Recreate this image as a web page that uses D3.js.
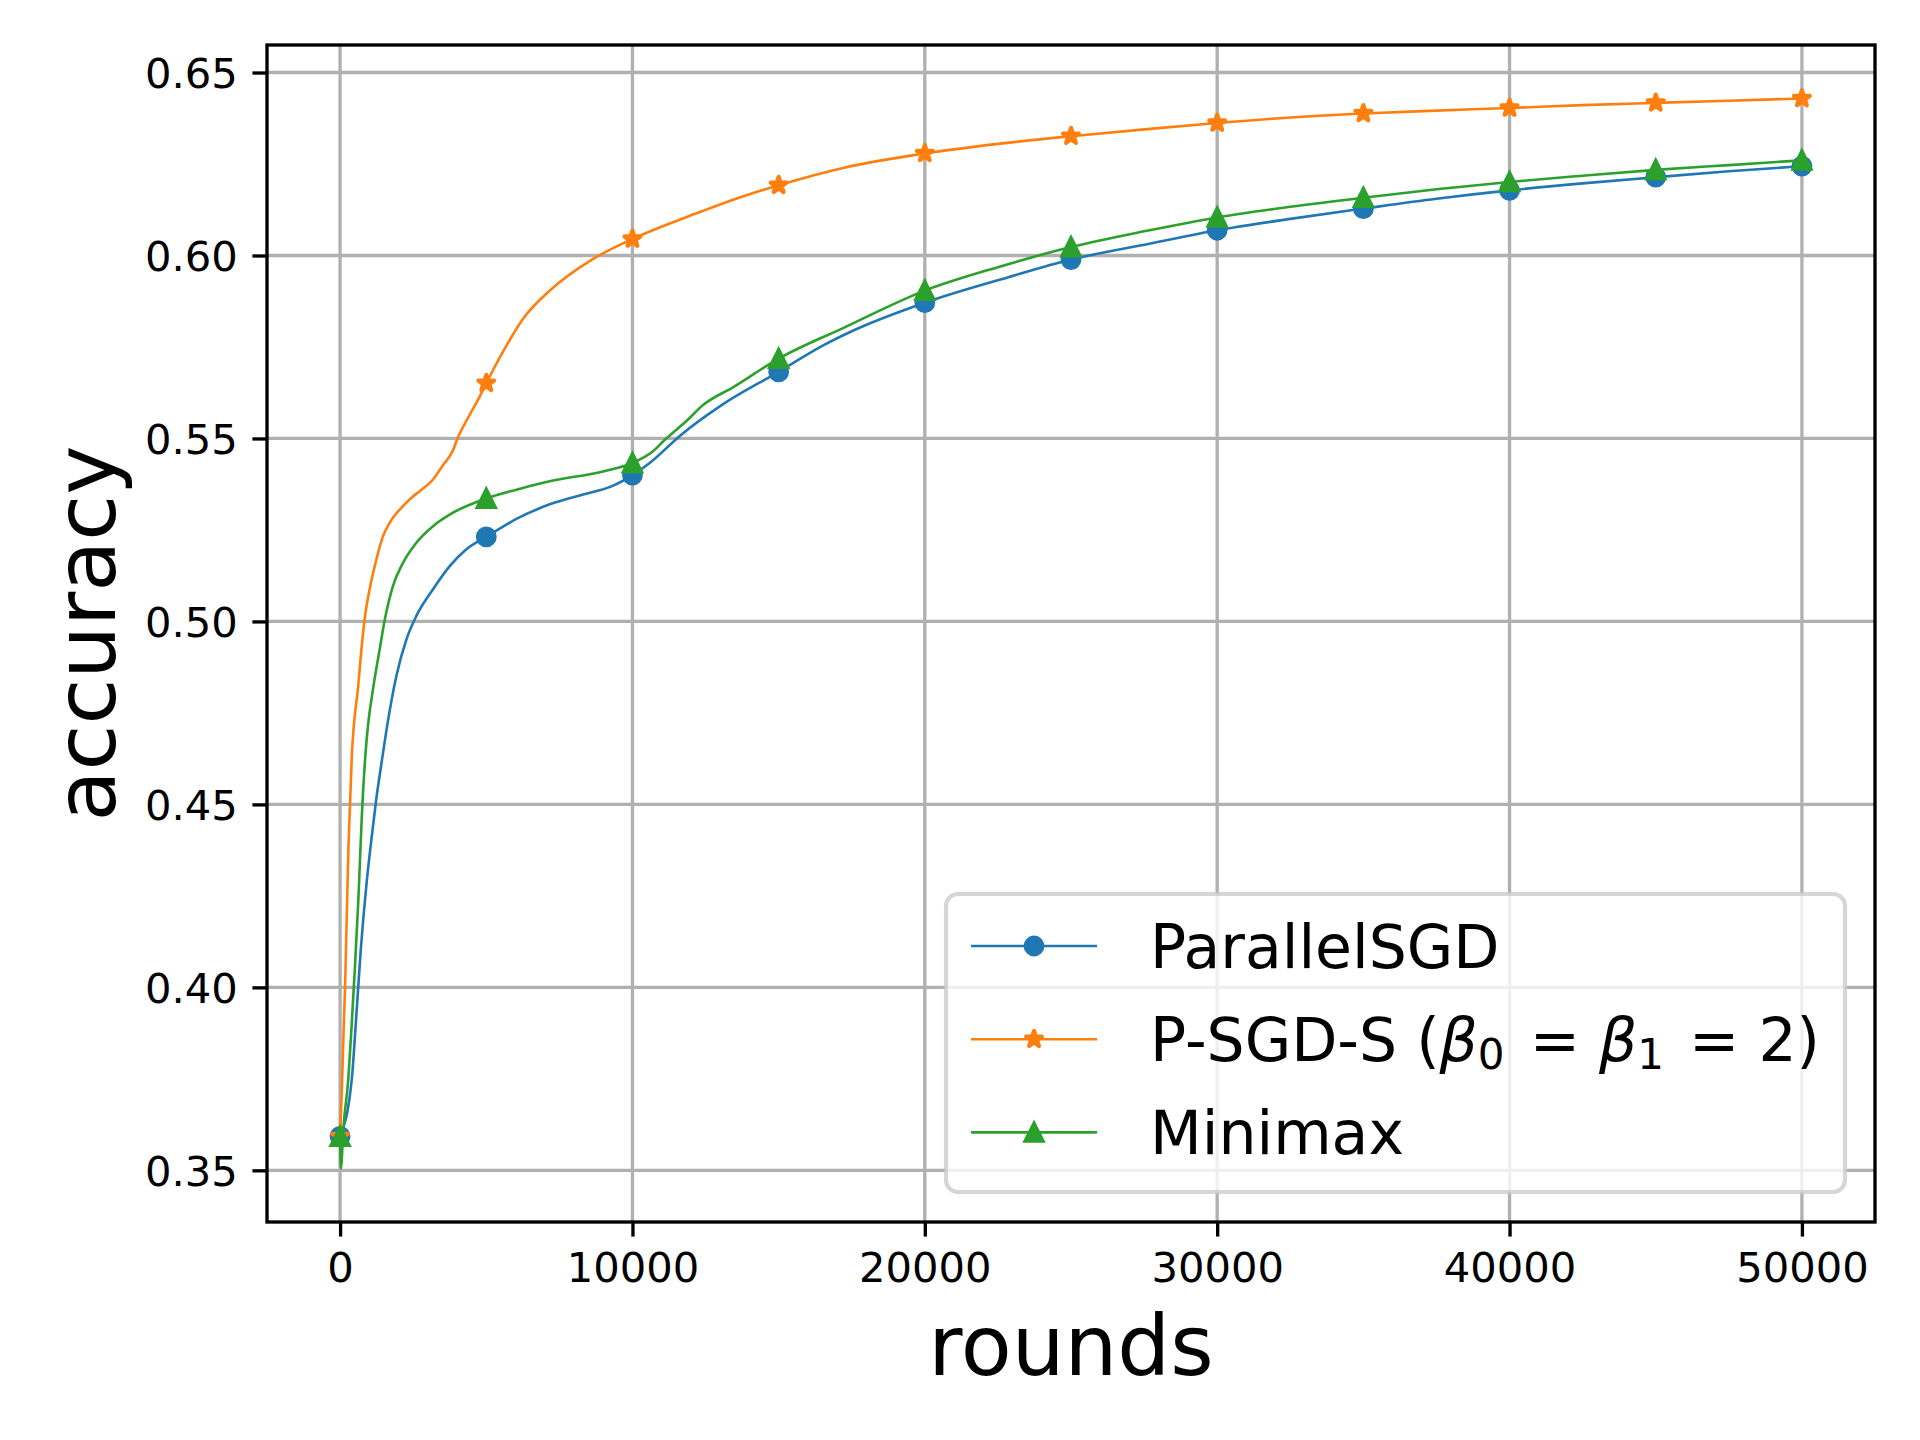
<!DOCTYPE html>
<html>
<head>
<meta charset="utf-8">
<script src="https://cdn.jsdelivr.net/npm/d3@7"></script>
<style>
  body { margin: 0; background: #fff; }
  text { font-family: "DejaVu Sans", sans-serif; }
</style>
</head>
<body>
<svg id="chart" width="1920" height="1440"></svg>
<script>
// values
const parallelRounds = [0, 400, 520, 700, 900, 1080, 1230, 1420, 1590, 1925, 2270, 2610, 3180, 3750, 4320, 5000,
    6030, 7170, 8310, 9280, 10000, 10590, 11650, 13050, 15000, 16540, 17500, 20000, 22830, 25000, 27720, 30000,
    32500, 35000, 37500, 40000, 42500, 45000, 47500, 50000];
const parallelAcc = [0.3593, 0.3749, 0.388, 0.4095, 0.428, 0.441, 0.451, 0.4615, 0.4705, 0.4851, 0.4951, 0.5015, 0.5088, 0.5151, 0.5197, 0.5231,
    0.5280, 0.5320, 0.5347, 0.5369, 0.540, 0.5433, 0.5509, 0.5591, 0.5682, 0.5755, 0.5793, 0.5871, 0.5940, 0.5989, 0.6033, 0.6069,
    0.6100, 0.6128, 0.6155, 0.6178, 0.6197, 0.6214, 0.6230, 0.6244];

const psgdRounds = [0, 60, 120, 170, 230, 285, 340, 400, 470, 610, 730, 840, 1010, 1240, 1470, 1700, 2150, 2500, 2720,
    3200, 3500, 3870, 4000, 4400, 4720, 5000, 5670, 6230, 7200, 8600, 10000, 12350, 13470, 15000, 17240, 20000,
    22500, 25000, 27700, 30000, 32500, 35000, 37500, 40000, 42500, 45000, 47500, 50000];
const psgdAcc = [0.3593, 0.372, 0.388, 0.400, 0.420, 0.438, 0.450, 0.463, 0.4715, 0.4815, 0.4924, 0.5006, 0.5088, 0.5169, 0.5233, 0.527, 0.5315, 0.5342, 0.5356,
    0.539, 0.5425, 0.5469, 0.5497, 0.556, 0.5606, 0.5651, 0.5751, 0.5824, 0.5906, 0.5988, 0.6045, 0.6120, 0.6153, 0.6192, 0.624, 0.6279,
    0.6305, 0.6326, 0.6346, 0.6362, 0.6377, 0.6388, 0.6396, 0.6403, 0.6411, 0.6417, 0.6423, 0.6429];

const minimaxRounds = [0, 25, 114, 284, 398, 511, 625, 739, 852, 955, 1126, 1354, 1525, 1810, 2152, 2608, 3178, 3862, 5000,
    6030, 7168, 8992, 10000, 10701, 11090, 11957, 12348, 13466, 15000, 17240, 20000, 22500, 25000, 27500, 30000,
    32500, 35000, 37500, 40000, 42500, 45000, 47500, 50000];
const minimaxAcc = [0.3592, 0.3505, 0.3617, 0.3753, 0.390, 0.406, 0.424, 0.446, 0.462, 0.4715, 0.4815, 0.4924, 0.5003, 0.5097, 0.516, 0.5215, 0.526, 0.5297, 0.5336,
    0.536, 0.5383, 0.541, 0.5433, 0.5465, 0.5495, 0.5556, 0.5587, 0.5641, 0.5718, 0.5803, 0.5904, 0.5968, 0.6023, 0.6066, 0.6104,
    0.6133, 0.6158, 0.6181, 0.6201, 0.6218, 0.6234, 0.6247, 0.626];

const markerRounds = [0, 5000, 10000, 15000, 20000, 25000, 30000, 35000, 40000, 45000, 50000];
const xTicks = [0, 10000, 20000, 30000, 40000, 50000];
const yTicks = [0.35, 0.40, 0.45, 0.50, 0.55, 0.60, 0.65];
const seriesNames = ["ParallelSGD", "P-SGD-S (β_0 = β_1 = 2)", "Minimax"];
const seriesColors = ["#1f77b4", "#ff7f0e", "#2ca02c"];
const seriesMarkers = ["circle", "star", "triangle"];

const series = [
    { rounds: parallelRounds, acc: parallelAcc },
    { rounds: psgdRounds, acc: psgdAcc },
    { rounds: minimaxRounds, acc: minimaxAcc }
].map((s, i) => ({
    name: seriesNames[i],
    color: seriesColors[i],
    marker: seriesMarkers[i],
    points: s.rounds.map((r, j) => ({ r: r, v: s.acc[j] }))
}));

const svg = d3.select("svg#chart");
const pt = 300 / 72;
const box = { left: 267, right: 1875, top: 45, bottom: 1222 };

svg.append("rect").attr("width", 1920).attr("height", 1440).attr("fill", "#fff");

// matplotlib style 5% margins
const allR = series.flatMap(s => s.points.map(p => p.r));
const allV = series.flatMap(s => s.points.map(p => p.v));
const [rMin, rMax] = d3.extent(allR);
const [vMin, vMax] = d3.extent(allV);
const xScale = d3.scaleLinear()
    .domain([rMin - 0.05 * (rMax - rMin), rMax + 0.05 * (rMax - rMin)])
    .range([box.left, box.right]);
const yScale = d3.scaleLinear()
    .domain([vMin - 0.05 * (vMax - vMin), vMax + 0.05 * (vMax - vMin)])
    .range([box.bottom, box.top]);

// gridlines
let grid = svg.append("g").attr("class", "grid");
grid.selectAll("line.gx").data(xTicks).join("line").attr("class", "gx")
    .attr("x1", d => xScale(d)).attr("x2", d => xScale(d))
    .attr("y1", box.top).attr("y2", box.bottom)
    .attr("stroke", "#b0b0b0").attr("stroke-width", 0.8 * pt);
grid.selectAll("line.gy").data(yTicks).join("line").attr("class", "gy")
    .attr("y1", d => yScale(d)).attr("y2", d => yScale(d))
    .attr("x1", box.left).attr("x2", box.right)
    .attr("stroke", "#b0b0b0").attr("stroke-width", 0.8 * pt);

// marker shapes, half size = 0.5 * markersize(4pt)
const ms = 2 * pt;
function markerPath(kind) {
    if (kind === "circle") return d3.arc()({ innerRadius: 0, outerRadius: ms, startAngle: 0, endAngle: 2 * Math.PI });
    if (kind === "triangle") return `M0,${-ms}L${-ms},${ms}L${ms},${ms}Z`;
    const pts = d3.range(10).map(k => {
        const a = Math.PI / 2 + k * Math.PI / 5;
        const rr = k % 2 === 0 ? ms : ms * 0.381966;
        return [rr * Math.cos(a), -rr * Math.sin(a)];
    });
    return "M" + pts.map(p => p.join(",")).join("L") + "Z";
}

const lineGen = d3.line()
    .x(d => xScale(d.r))
    .y(d => yScale(d.v))
    .curve(d3.curveMonotoneX);

let plot = svg.append("g").attr("class", "plot");
series.forEach(s => {
    let g = plot.append("g");
    g.append("path")
        .attr("d", lineGen(s.points))
        .attr("fill", "none")
        .attr("stroke", s.color)
        .attr("stroke-width", 2.6)
        .attr("stroke-linejoin", "round");
    g.selectAll("path.mk")
        .data(s.points.filter(p => markerRounds.includes(p.r)))
        .join("path").attr("class", "mk")
        .attr("d", markerPath(s.marker))
        .attr("transform", d => `translate(${xScale(d.r)},${yScale(d.v)})`)
        .attr("fill", s.color)
        .attr("stroke", s.color)
        .attr("stroke-width", pt)
        .attr("stroke-linejoin", s.marker === "triangle" ? "miter" : "round");
});

// spines
svg.append("rect")
    .attr("x", box.left).attr("y", box.top)
    .attr("width", box.right - box.left).attr("height", box.bottom - box.top)
    .attr("fill", "none").attr("stroke", "#000").attr("stroke-width", 0.8 * pt);

// axes
const tickLen = 3.5 * pt;
const bottomAxis = d3.axisBottom(xScale).tickValues(xTicks).tickFormat(d3.format("d"))
    .tickSize(tickLen).tickPadding(3.5 * pt);
const leftAxis = d3.axisLeft(yScale).tickValues(yTicks).tickFormat(d3.format(".2f"))
    .tickSize(tickLen).tickPadding(3.5 * pt);

let xAxisG = svg.append("g").attr("transform", `translate(0,${box.bottom})`).call(bottomAxis);
let yAxisG = svg.append("g").attr("transform", `translate(${box.left},0)`).call(leftAxis);
[xAxisG, yAxisG].forEach(a => {
    a.select(".domain").remove();
    a.selectAll(".tick line").attr("stroke", "#000").attr("stroke-width", 0.8 * pt);
    a.selectAll(".tick text")
        .attr("fill", "#000")
        .attr("font-family", "DejaVu Sans")
        .attr("font-size", 10 * pt);
});
xAxisG.selectAll(".tick text").attr("dy", null).attr("y", tickLen + 3.5 * pt + 31);
yAxisG.selectAll(".tick text").attr("dy", null).attr("y", 15);

// axis titles
svg.append("text")
    .attr("x", (box.left + box.right) / 2).attr("y", 1375)
    .attr("text-anchor", "middle").attr("font-size", 20 * pt)
    .text("rounds");
svg.append("text")
    .attr("transform", `translate(115,${(box.top + box.bottom) / 2}) rotate(-90)`)
    .attr("text-anchor", "middle").attr("font-size", 20 * pt)
    .text("accuracy");

// legend, lower right
const fs = 14.4 * pt;
let legend = svg.append("g").attr("class", "legend");
let frame = legend.append("rect");
let texts = [];
const frameBottom = box.bottom - 0.5 * fs;
const frameHeight = 298;
const frameTop = frameBottom - frameHeight;
const rowGap = 93.2;
const subShift = 8.5;

series.forEach((s, i) => {
    const cy = frameTop + 52 + i * rowGap;
    let row = legend.append("g").attr("class", "row");
    row.append("line")
        .attr("x1", 0).attr("x2", 126).attr("y1", cy).attr("y2", cy)
        .attr("stroke", s.color).attr("stroke-width", 2.6);
    row.append("path")
        .attr("d", markerPath(s.marker))
        .attr("transform", `translate(63,${cy})`)
        .attr("fill", s.color).attr("stroke", s.color).attr("stroke-width", pt)
        .attr("stroke-linejoin", s.marker === "triangle" ? "miter" : "round");
    let t = row.append("text")
        .attr("x", 179).attr("y", cy + 21.5)
        .attr("font-size", fs).attr("fill", "#000");
    // β_n -> italic beta with a subscript digit
    let pendingDy = 0;
    s.name.split(/(β_\d)/).forEach(p => {
        if (!p) return;
        const m = p.match(/^β_(\d)$/);
        if (m) {
            t.append("tspan").attr("font-style", "italic").attr("dy", pendingDy || null).text("β");
            t.append("tspan").attr("font-size", fs * 0.7).attr("dy", subShift).text(m[1]);
            pendingDy = -subShift;
        } else {
            t.append("tspan").attr("dy", pendingDy || null)
                .text(pendingDy ? "\u200a" + p : p);
            pendingDy = 0;
        }
    });
    texts.push(t);
});

const maxW = d3.max(texts, t => t.node().getComputedTextLength());
const frameWidth = 25 + 179 + maxW + 25;
const frameLeft = box.right - 0.5 * fs - frameWidth;
legend.selectAll("g.row").attr("transform", `translate(${frameLeft + 25},0)`);
frame
    .attr("x", frameLeft).attr("y", frameTop)
    .attr("width", frameWidth).attr("height", frameHeight)
    .attr("rx", 0.2 * fs).attr("ry", 0.2 * fs)
    .attr("fill", "rgba(255,255,255,0.8)")
    .attr("stroke", "rgba(204,204,204,0.8)")
    .attr("stroke-width", pt);
</script>
</body>
</html>
